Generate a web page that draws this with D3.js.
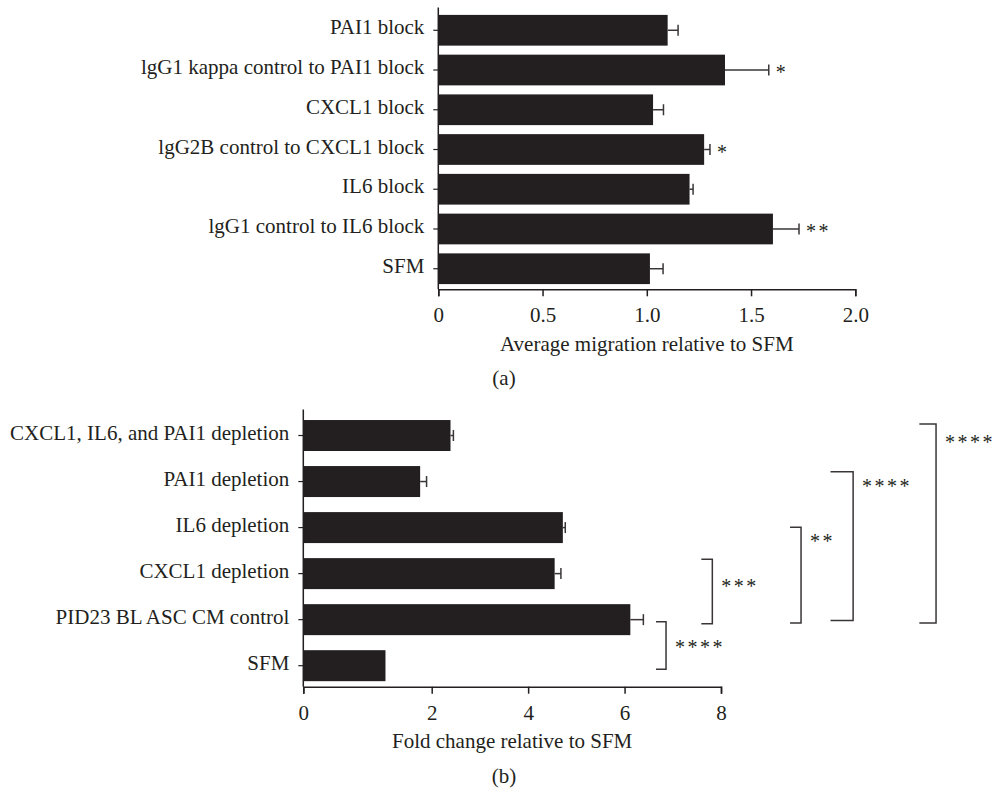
<!DOCTYPE html>
<html>
<head>
<meta charset="utf-8">
<script src="https://cdn.jsdelivr.net/npm/d3@7"></script>
<style>
  body { margin: 0; background: #fff; }
  svg text { font-family: "Liberation Serif", "Times New Roman", serif; fill: #231f20; }
</style>
</head>
<body>
<svg id="fig" width="995" height="792"></svg>
<script>
// Panel (a): antibody blocks
const blockLabels = ["PAI1 block", "lgG1 kappa control to PAI1 block", "CXCL1 block",
    "lgG2B control to CXCL1 block", "IL6 block", "lgG1 control to IL6 block", "SFM"];
const blockMeans = [1.10, 1.375, 1.03, 1.275, 1.205, 1.605, 1.015];
const blockErrors = [0.05, 0.21, 0.05, 0.028, 0.017, 0.125, 0.063];
const blockStars = ["", "*", "", "*", "", "**", ""];
const blockTicks = [0, 0.5, 1.0, 1.5, 2.0];

// Panel (b): depletions
const depletionLabels = ["CXCL1, IL6, and PAI1 depletion", "PAI1 depletion", "IL6 depletion",
    "CXCL1 depletion", "PID23 BL ASC CM control", "SFM"];
const depletionMeans = [2.39, 1.82, 4.72, 4.55, 6.12, 1.28];
const depletionErrors = [0.06, 0.10, 0.05, 0.13, 0.27, 0];
const depletionTicks = [0, 2, 4, 6, 8];
const comparisons = [
    { upper: "PID23 BL ASC CM control", lower: "SFM", stars: "****" },
    { upper: "CXCL1 depletion", lower: "PID23 BL ASC CM control", stars: "***" },
    { upper: "IL6 depletion", lower: "PID23 BL ASC CM control", stars: "**" },
    { upper: "PAI1 depletion", lower: "PID23 BL ASC CM control", stars: "****" },
    { upper: "CXCL1, IL6, and PAI1 depletion", lower: "PID23 BL ASC CM control", stars: "****" }
];

// bracket layout (x in axis units, offsets in px)
const bracketLayout = [
    { x: 6.86, arm: 10, dTop: 2, dBot: 3.6, textDy: 23 },
    { x: 7.82, arm: 11, dTop: -14.4, dBot: 4, textDy: 24.5 },
    { x: 9.66, arm: 11, dTop: -0.4, dBot: 3.4, textDy: 11 },
    { x: 10.74, arm: 22.6, dTop: -9.8, dBot: 0.8, textDy: 11.5 },
    { x: 12.46, arm: 16.7, dTop: -11.5, dBot: 3.4, textDy: 16 }
];

const ink = "#231f20";
const fs = 21;
const starFs = 20;
const svg = d3.select("#fig");

function drawPanel(opt) {
    const g = svg.append("g");
    const y = d3.scaleBand()
        .domain(opt.labels)
        .range(opt.yRange)
        .paddingInner(opt.pad)
        .paddingOuter(opt.pad / 2);
    const x = opt.x;
    const rows = opt.labels.map((l, i) => ({ label: l, mean: opt.means[i], err: opt.errors[i], stars: opt.stars ? opt.stars[i] : "" }));

    // bars
    g.selectAll("rect.bar").data(rows).join("rect")
        .attr("class", "bar")
        .attr("x", x(0))
        .attr("y", d => y(d.label))
        .attr("width", d => x(d.mean) - x(0))
        .attr("height", y.bandwidth())
        .attr("fill", ink);

    // error bars
    const eb = g.selectAll("g.err").data(rows.filter(d => d.err > 0)).join("g")
        .attr("class", "err")
        .attr("stroke", "#3a3637")
        .attr("stroke-width", 1.5);
    eb.append("line")
        .attr("x1", d => x(d.mean)).attr("x2", d => x(d.mean + d.err))
        .attr("y1", d => y(d.label) + y.bandwidth() / 2)
        .attr("y2", d => y(d.label) + y.bandwidth() / 2);
    eb.append("line")
        .attr("x1", d => x(d.mean + d.err)).attr("x2", d => x(d.mean + d.err))
        .attr("y1", d => y(d.label) + y.bandwidth() / 2 - 5.5)
        .attr("y2", d => y(d.label) + y.bandwidth() / 2 + 5.5);

    // significance stars next to bars
    g.selectAll("text.star").data(rows.filter(d => d.stars)).join("text")
        .attr("class", "star")
        .attr("x", d => x(d.mean + d.err) + 7)
        .attr("y", d => y(d.label) + y.bandwidth() / 2 + 0.467 * starFs)
        .attr("font-size", starFs)
        .attr("letter-spacing", 2.5)
        .text(d => d.stars);

    // axes
    const axisY = opt.axisY;
    const xAxis = g.append("g")
        .attr("transform", `translate(0,${axisY})`)
        .call(d3.axisBottom(x).tickValues(opt.ticks).tickSizeOuter(0).tickSize(7).tickPadding(11)
            .tickFormat(opt.fmt));
    xAxis.select(".domain").attr("stroke", ink).attr("stroke-width", 1.5);
    xAxis.selectAll(".tick line").attr("stroke", ink).attr("stroke-width", 1.5);
    xAxis.selectAll(".tick text").attr("font-size", fs).attr("font-family", null).attr("fill", ink);

    const yAxis = g.append("g")
        .attr("transform", `translate(${x(0)},0)`)
        .call(d3.axisLeft(y).tickSize(5).tickPadding(9));
    yAxis.select(".domain").remove();
    yAxis.selectAll(".tick line").attr("stroke", ink).attr("stroke-width", 1.2);
    yAxis.selectAll(".tick text").attr("font-size", fs).attr("font-family", null)
        .attr("fill", ink).attr("dy", "0.2em");
    g.append("line")
        .attr("x1", x(0)).attr("x2", x(0))
        .attr("y1", opt.yRange[0] - 3).attr("y2", axisY)
        .attr("stroke", ink).attr("stroke-width", 1.5);

    // titles
    const xr = x.range();
    g.append("text")
        .attr("x", (xr[0] + xr[xr.length - 1]) / 2)
        .attr("y", axisY + 61.5)
        .attr("text-anchor", "middle")
        .attr("font-size", fs)
        .text(opt.title);
    g.append("text")
        .attr("x", 504)
        .attr("y", axisY + opt.panelDy)
        .attr("text-anchor", "middle")
        .attr("font-size", fs)
        .text(opt.panel);

    return { g, x, y };
}

// panel (a)
const xA = d3.scaleLinear().domain([0, 2]).range([438.3, 855.3]);
drawPanel({
    labels: blockLabels, means: blockMeans, errors: blockErrors, stars: blockStars,
    x: xA, yRange: [10.4, 288.6], pad: 0.227, axisY: 289.3,
    ticks: blockTicks, fmt: d => d === 0 ? "0" : d3.format(".1f")(d),
    title: "Average migration relative to SFM", panel: "(a)", panelDy: 95.5
});

// panel (b): axis spacing in the original is wider between 0 and 2
const xB = d3.scaleLinear().domain([0, 2, 8]).range([303.3, 431.7, 721]);
const pb = drawPanel({
    labels: depletionLabels, means: depletionMeans, errors: depletionErrors, stars: null,
    x: xB, yRange: [412.5, 688.7], pad: 0.327, axisY: 686.7,
    ticks: depletionTicks, fmt: d3.format("d"),
    title: "Fold change relative to SFM", panel: "(b)", panelDy: 96.5
});

// comparison brackets
const yB = pb.y;
const half = yB.bandwidth() / 2;
comparisons.forEach((c, i) => {
    const lay = bracketLayout[i];
    const bx = xB(lay.x);
    const top = yB(c.upper) + half + lay.dTop;
    const bot = yB(c.lower) + half + lay.dBot;
    pb.g.append("path")
        .attr("d", `M${bx - lay.arm},${top}H${bx}V${bot}H${bx - lay.arm}`)
        .attr("fill", "none")
        .attr("stroke", "#3a3637")
        .attr("stroke-width", 1.5);
    pb.g.append("text")
        .attr("x", bx + 9)
        .attr("y", top + lay.textDy + 0.467 * starFs)
        .attr("font-size", starFs)
        .attr("letter-spacing", 2.5)
        .text(c.stars);
});
</script>
</body>
</html>
